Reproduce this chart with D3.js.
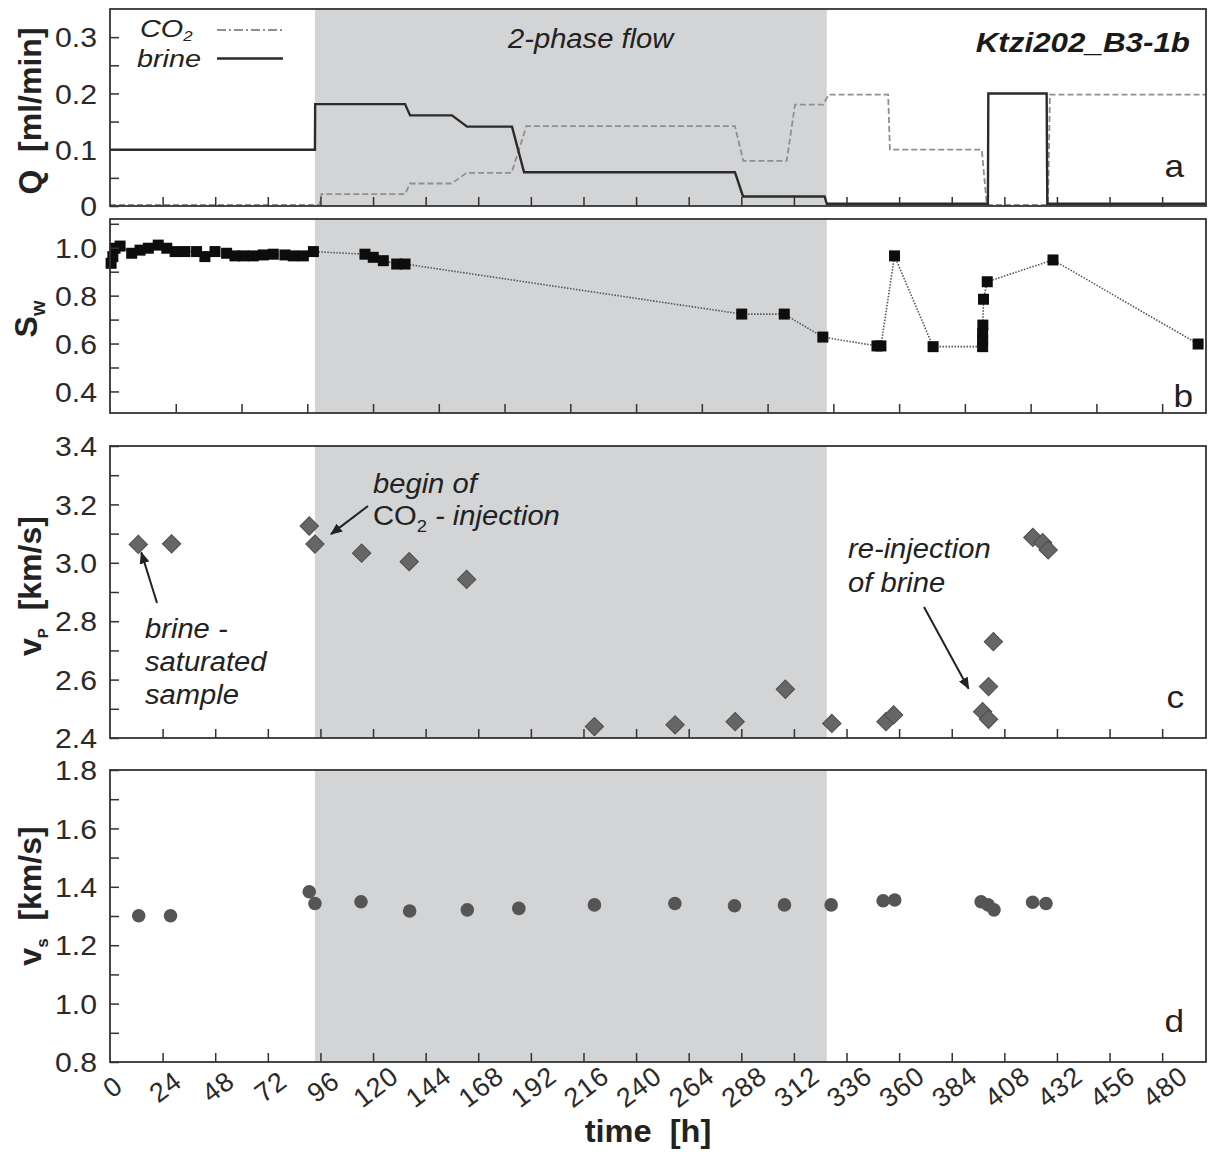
<!DOCTYPE html>
<meta charset="utf-8">
<style>
body { margin: 0; background: #fff; }
svg { font-family: "Liberation Sans", Arial, Helvetica, sans-serif; }
.band { fill: #d3d4d6; }
.frame { fill: none; stroke: #333; stroke-width: 1.8px; }
.tick line { stroke: #333; stroke-width: 1.5px; }
.tick text, .xtl { font-family: "Liberation Sans", Arial, sans-serif; font-size: 27px; fill: #2a2a2a; }
.title { font-size: 32px; font-weight: bold; fill: #222; }
.note { font-size: 27px; font-style: italic; fill: #222; }
.legend { font-size: 24px; font-style: italic; fill: #222; }
.letter { font-size: 32px; fill: #222; }
.co2 { fill: none; stroke: #8f8f8f; stroke-width: 1.8px; stroke-dasharray: 6 3; }
.brine { fill: none; stroke: #2b2b2b; stroke-width: 2.4px; }
.swline { fill: none; stroke: #555; stroke-width: 1.6px; stroke-dasharray: 1.5 1.5; }
.arrow { stroke: #222; stroke-width: 2px; }
</style>
<svg width="1208" height="1154"></svg>
<script src="https://cdn.jsdelivr.net/npm/d3@7"></script>
<script>

// ---- data ----
// a: flow rates [ml/min], step series as (time, rate) vertices
var brineTime = [0, 93.5, 93.6, 134.6, 136.9, 156, 162.9, 183.4, 188.9, 285.1, 288.8, 326, 327, 400.5, 400.7, 427.3, 427.6, 500];
var brineRate = [0.1, 0.1, 0.181, 0.181, 0.161, 0.161, 0.141, 0.141, 0.06, 0.06, 0.017, 0.017, 0.004, 0.004, 0.2, 0.2, 0.004, 0.004];
var co2Time = [0, 95.5, 96.5, 134.6, 136.9, 155.9, 162.7, 183.2, 190, 285.1, 288.9, 308.7, 312.5, 325.4, 327.8, 355, 355.8, 397.7, 400, 427.9, 428.8, 500];
var co2Rate = [0.002, 0.002, 0.021, 0.021, 0.04, 0.04, 0.059, 0.059, 0.142, 0.142, 0.08, 0.08, 0.18, 0.18, 0.198, 0.198, 0.1, 0.1, 0.002, 0.002, 0.198, 0.198];

// b: water saturation
var swTime = [0.5, 1.3, 2.3, 4.6, 9.9, 13.7, 17.5, 22, 25.9, 29.7, 34.2, 39.5, 43.3, 47.9, 53.2, 57, 60.8, 65.4, 69.9, 74.5, 79.8, 83.6, 88.2, 92.8,
              116.3, 120.1, 124.7, 130.8, 134.6, 288.2, 307.6, 325.2, 349.9, 351.7, 357.9, 375.5, 398.1, 398.1, 398.1, 398.2, 398.5, 400.2, 430.2, 496.4];
var swValue = [0.935, 0.963, 0.998, 1.007, 0.977, 0.99, 0.998, 1.011, 0.998, 0.984, 0.984, 0.984, 0.963, 0.984, 0.977, 0.966, 0.966, 0.966, 0.97, 0.973, 0.97, 0.966, 0.966, 0.984,
               0.973, 0.96, 0.946, 0.932, 0.932, 0.723, 0.723, 0.627, 0.59, 0.59, 0.966, 0.587, 0.587, 0.615, 0.643, 0.677, 0.785, 0.858, 0.949, 0.598];

// c: P-wave velocity [km/s]
var vpTime = [12.9, 28.1, 90.9, 93.5, 114.8, 136.5, 162.7, 221, 257.8, 285.2, 308.1, 329.3, 354, 357.5, 398.1, 400.8, 400.8, 403, 421, 425.5, 428];
var vpValue = [3.063, 3.065, 3.126, 3.064, 3.033, 3.004, 2.943, 2.439, 2.445, 2.456, 2.567, 2.45, 2.456, 2.479, 2.49, 2.464, 2.576, 2.73, 3.087, 3.069, 3.044];

// d: S-wave velocity [km/s]
var vsTime = [13.1, 27.6, 90.9, 93.5, 114.5, 136.7, 163, 186.5, 221, 257.7, 284.9, 307.7, 329, 352.7, 358, 397.4, 400.6, 403.3, 420.9, 427];
var vsValue = [1.301, 1.301, 1.383, 1.343, 1.349, 1.317, 1.321, 1.326, 1.338, 1.343, 1.335, 1.338, 1.338, 1.352, 1.355, 1.349, 1.338, 1.321, 1.347, 1.343];

var phase = [93.5, 327];                 // 2-phase flow period [h]
var timeTicks = d3.range(24, 481, 24);
var timeTicksB = d3.range(30, 481, 30);
var timeLabels = d3.range(0, 481, 24);
var qTicks = d3.range(0, 7).map(function(d) { return d * 0.05; });
var swTicks = d3.range(4, 12).map(function(d) { return d / 10; });
var vpTicks = d3.range(24, 35).map(function(d) { return d / 10; });
var vsTicks = d3.range(8, 19).map(function(d) { return d / 10; });

// ---- layout ----
var svg = d3.select("svg");
var x = d3.scaleLinear().domain([0, 500]).range([110, 1206]);

function tr(px, py, sx) {
  return "translate(" + px + "," + py + ")" + (sx ? " scale(" + sx + ",1)" : "");
}

function panel(top, bottom, domain, ticks, isLabel, fmt, xt) {
  var y = d3.scaleLinear().domain(domain).range([bottom, top]);
  var g = svg.append("g");
  g.append("rect").attr("class", "band")
    .attr("x", x(phase[0])).attr("y", top)
    .attr("width", x(phase[1]) - x(phase[0])).attr("height", bottom - top);
  var marks = g.append("g");

  var ya = g.append("g").attr("transform", "translate(110,0)")
    .call(d3.axisLeft(y).tickValues(ticks).tickSize(-9)
      .tickFormat(function(d) { return isLabel(d) ? fmt(d) : ""; }));
  ya.select(".domain").remove();
  ya.selectAll("text").attr("x", null).attr("dy", "0.36em")
    .attr("transform", "translate(-13,0) scale(1.12,1)");

  var xa = g.append("g").attr("transform", "translate(0," + bottom + ")")
    .call(d3.axisBottom(x).tickValues(xt).tickSize(-9).tickFormat(""));
  xa.select(".domain").remove();

  g.append("rect").attr("class", "frame")
    .attr("x", 110).attr("y", top).attr("width", 1096).attr("height", bottom - top);
  return { y: y, marks: marks, g: g };
}

function even(d) { return Math.round(d * 10) % 2 === 0; }
function f1(d) { return d.toFixed(1); }

var A = panel(9, 206, [0, 0.35], qTicks, function(d) { return Math.round(d * 20) % 2 === 0; },
  function(d) { return d === 0 ? "0" : d.toFixed(1); }, timeTicks);
var B = panel(219, 413, [0.31, 1.12], swTicks, even, f1, timeTicksB);
var C = panel(446, 738, [2.4, 3.4], vpTicks, even, f1, timeTicks);
var D = panel(770, 1062, [0.8, 1.8], vsTicks, even, f1, timeTicks);

// ---- a: flow rates ----
function series(tt, vv, y) {
  return d3.line().x(function(i) { return x(tt[i]); }).y(function(i) { return y(vv[i]); })(d3.range(tt.length));
}
A.marks.append("path").attr("class", "co2").attr("d", series(co2Time, co2Rate, A.y));
A.marks.append("path").attr("class", "brine").attr("d", series(brineTime, brineRate, A.y));

var leg = svg.append("g");
var t1 = leg.append("text").attr("class", "legend").attr("transform", tr(140, 37, 1.2));
t1.append("tspan").text("CO");
t1.append("tspan").attr("font-size", "14px").attr("dy", 4).text("2");
leg.append("text").attr("class", "legend").attr("transform", tr(137, 67, 1.2)).text("brine");
leg.append("line").attr("class", "co2").attr("x1", 217).attr("x2", 283).attr("y1", 30).attr("y2", 30)
  .style("stroke-dasharray", "9 3 2 3");
leg.append("line").attr("class", "brine").attr("x1", 217).attr("x2", 283).attr("y1", 58.5).attr("y2", 58.5);

svg.append("text").attr("class", "note").attr("transform", tr(508, 48, 1.08)).text("2-phase flow");
svg.append("text").attr("transform", tr(1190, 52, 1.12)).attr("text-anchor", "end")
  .style("font-size", "28px").style("font-weight", "bold").style("font-style", "italic").style("fill", "#1a1a1a")
  .text("Ktzi202_B3-1b");

// ---- b: saturation ----
B.marks.append("path").attr("class", "swline").attr("d", series(swTime, swValue, B.y));
B.marks.selectAll("rect").data(d3.range(swTime.length)).join("rect")
  .attr("x", function(i) { return x(swTime[i]) - 5.5; })
  .attr("y", function(i) { return B.y(swValue[i]) - 5.5; })
  .attr("width", 11).attr("height", 11).attr("fill", "#0d0d0d");

// ---- c: vp diamonds ----
C.marks.selectAll("rect").data(d3.range(vpTime.length)).join("rect")
  .attr("x", -6.5).attr("y", -6.5).attr("width", 13).attr("height", 13)
  .attr("transform", function(i) { return "translate(" + x(vpTime[i]) + "," + C.y(vpValue[i]) + ") rotate(45)"; })
  .attr("fill", "#666").attr("stroke", "#4d4d4d").attr("stroke-width", 1);

// ---- d: vs circles ----
D.marks.selectAll("circle").data(d3.range(vsTime.length)).join("circle")
  .attr("cx", function(i) { return x(vsTime[i]); })
  .attr("cy", function(i) { return D.y(vsValue[i]); })
  .attr("r", 6.8).attr("fill", "#555");

// ---- annotations in c ----
svg.append("defs").append("marker").attr("id", "head")
  .attr("viewBox", "0 0 12 10").attr("refX", 11).attr("refY", 5)
  .attr("markerWidth", 12).attr("markerHeight", 10).attr("markerUnits", "userSpaceOnUse")
  .attr("orient", "auto")
  .append("path").attr("d", "M0,0 L12,5 L0,10 Z").attr("fill", "#222");

function arrow(fromX, fromY, toX, toY) {
  svg.append("line").attr("class", "arrow")
    .attr("x1", fromX).attr("y1", fromY).attr("x2", toX).attr("y2", toY)
    .attr("marker-end", "url(#head)");
}
arrow(157, 603, x(vpTime[0]) + 3, C.y(vpValue[0]) + 8);
arrow(368, 506, x(vpTime[3]) + 16, C.y(vpValue[3]) - 10);
arrow(924, 607, x(vpTime[14]) - 14, C.y(vpValue[14]) - 23);

function note(lines, px, py0, step) {
  lines.forEach(function(s, k) {
    svg.append("text").attr("class", "note").attr("transform", tr(px, py0 + k * step, 1.08)).text(s);
  });
}
note(["brine -", "saturated", "sample"], 145, 638, 33);
note(["begin of"], 373, 493, 0);
var inj = svg.append("text").attr("class", "note").attr("transform", tr(373, 525, 1.08));
inj.append("tspan").style("font-style", "normal").text("CO");
inj.append("tspan").style("font-style", "normal").attr("font-size", "17px").attr("dy", 7).text("2");
inj.append("tspan").attr("dy", -7).text(" - injection");
note(["re-injection", "of brine"], 848, 558, 34);

// panel letters
[["a", 1184, 177], ["b", 1193, 407], ["c", 1184, 708], ["d", 1184, 1032]].forEach(function(p) {
  svg.append("text").attr("class", "letter").attr("text-anchor", "end")
    .attr("transform", tr(p[1], p[2], 1.1)).text(p[0]);
});

// ---- axis titles ----
function ytitle(px, py, parts) {
  var t = svg.append("text").attr("class", "title").attr("text-anchor", "middle")
    .attr("transform", "translate(" + px + "," + py + ") rotate(-90)");
  parts.forEach(function(p) {
    var s = t.append("tspan").text(p[0]);
    if (p[1]) s.attr("font-size", p[1]);
    if (p[2]) s.attr("dy", p[2]);
  });
}
ytitle(41, 111, [["Q\u00a0\u00a0[ml/min]"]]);
ytitle(37, 319, [["S"], ["w", "20px", 8]]);
ytitle(41, 586, [["v"], ["P", "15px", 7], ["\u00a0\u00a0[km/s]", null, -7]]);
ytitle(41, 896, [["v"], ["s", "17px", 7], ["\u00a0\u00a0[km/s]", null, -7]]);

svg.append("g").selectAll("text").data(timeLabels).join("text")
  .attr("class", "xtl").attr("text-anchor", "middle").attr("dominant-baseline", "central")
  .style("letter-spacing", "1px")
  .attr("transform", function(t) { return "translate(" + (x(t) + 3) + ",1087) rotate(-37)"; })
  .text(function(t) { return t; });

svg.append("text").attr("class", "title").attr("text-anchor", "middle")
  .attr("transform", tr(648, 1142, 1.05)).style("font-size", "31px")
  .text("time\u00a0\u00a0[h]");

</script>
